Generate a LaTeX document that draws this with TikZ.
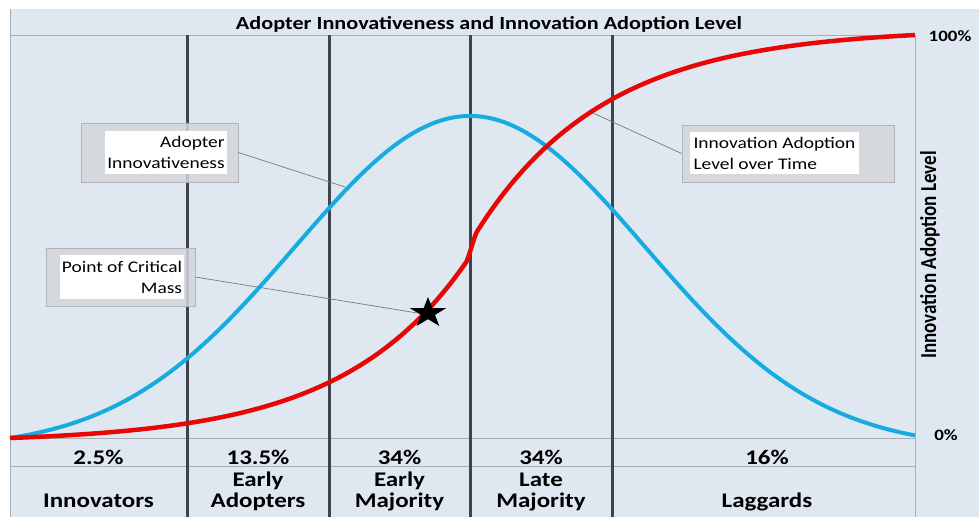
\documentclass[tikz,border=0pt]{standalone}
\usepackage{fontspec}
\usepackage{graphicx}
\setmainfont{Carlito}[FakeStretch=1.2]
\newfontfamily\axisfont{Carlito}
\usetikzlibrary{shapes.geometric}
\definecolor{bg}{RGB}{223,232,241}
\definecolor{gridline}{RGB}{168,174,180}
\definecolor{divider}{RGB}{62,68,76}
\definecolor{bluecurve}{RGB}{22,172,224}
\definecolor{redcurve}{RGB}{232,6,6}
\definecolor{boxgrey}{RGB}{212,214,218}
\definecolor{boxedge}{RGB}{176,180,184}
\definecolor{leader}{RGB}{118,122,126}
\newcommand{\bxfont}{\fontsize{16.2}{21}\selectfont}
\newcommand{\lblfont}{\bfseries\fontsize{20.8}{19.5}\selectfont}
\begin{document}
\begin{tikzpicture}[x=1pt,y=-1pt,
  thinline/.style={gridline, line width=1pt},
  divline/.style={divider, line width=3pt},
  outerbox/.style={draw=boxedge, fill=boxgrey, fill opacity=0.85, line width=0.8pt, inner sep=0pt},
  innerbox/.style={fill=white, inner xsep=1pt, inner ysep=0pt, font=\bxfont},
  leaderline/.style={leader, line width=0.7pt},
  lbl/.style={font=\lblfont, anchor=base, inner sep=0pt},
  axislbl/.style={font=\bfseries\fontsize{15.8}{18}\selectfont, inner sep=0pt},
  curveblue/.style={bluecurve, line width=4pt},
  curvered/.style={redcurve, line width=4.5pt, line join=round}]
\useasboundingbox (0,0) rectangle (979,517);
\fill[white] (0,0) rectangle (979,517);
\fill[bg] (10,9) rectangle (979,517);
% grid
\draw[thinline] (10.5,9) -- (10.5,517);
\draw[thinline] (10,35) -- (915,35);
\draw[thinline] (915,35) -- (915,517);
\draw[thinline] (10,438) -- (915,438);
\draw[thinline] (10,466) -- (915,466);
% dividers
\foreach \xx in {187,329,470,612} \draw[divline] (\xx,35) -- (\xx,517);
% title
\node[font=\bfseries\fontsize{18.5}{22}\selectfont, anchor=base, inner sep=0pt] (title) at (489,29) {Adopter Innovativeness and Innovation Adoption Level};
% blue curve
\draw[curveblue] plot[domain=10:915, samples=220] (\x, {438 - 322*(exp(-0.5*((\x-470)/175)^2) - 0.0316)/0.9684});
% red curve
\draw[curvered] plot[domain=10:466, samples=150] (\x, {438 - 4.706*(exp(0.008*(\x-10)) - 1)})
  .. controls (469,257.6) and (474,236.5) .. (477,231.6)
  -- plot[domain=477:915, samples=150] (\x, {35 + 203*(exp(-0.0078*(\x-473)) - 0.0318)/0.9682});
% callout boxes
\node[outerbox, minimum width=157pt, minimum height=59pt] (box1) at (159.5,152.5) {};
\node[innerbox, minimum width=122pt, minimum height=43pt, align=right] (box1t) at (166,152.5) {Adopter\\Innovativeness};
\node[outerbox, minimum width=149pt, minimum height=58pt] (box2) at (120.5,277) {};
\node[innerbox, minimum width=124pt, minimum height=44pt, align=right] (box2t) at (122,277) {Point of Critical\\Mass};
\node[outerbox, minimum width=212pt, minimum height=57pt] (box3) at (788,153.5) {};
\node[innerbox, minimum width=169pt, minimum height=42pt, align=left] (box3t) at (774.5,153) {Innovation Adoption\\Level over Time};
% leader lines
\coordinate (bluept) at (345,187);
\coordinate (redpt) at (593,113);
\node[star, star points=5, star point ratio=2.6, fill=black, minimum size=32pt, inner sep=0pt, transform shape, xscale=1.2] (crit) at (428,313) {};
\draw[leaderline] (box1.east) -- (bluept);
\draw[leaderline] (box2.east) -- (crit.west);
\draw[leaderline] (box3.west) -- (redpt);
% axis labels
\node[axislbl] (top) at (950,36) {100\%};
\node[axislbl] (bottom) at (946,435) {0\%};
\node[rotate=90, inner sep=0pt] (axislabel) at (930,255) {\scalebox{1}[1.2]{\axisfont\bfseries\fontsize{19}{22}\selectfont Innovation Adoption Level}};
% percentages
\node[lbl] (p1) at (98.5,464) {2.5\%};
\node[lbl] (p2) at (258,464) {13.5\%};
\node[lbl] (p3) at (399.5,464) {34\%};
\node[lbl] (p4) at (541,464) {34\%};
\node[lbl] (p5) at (767,464) {16\%};
% group names
\node[lbl] (g1) at (98.5,507) {Innovators};
\node[lbl] (g2) at (258,507) {\begin{tabular}[b]{@{}c@{}}Early\\Adopters\end{tabular}};
\node[lbl] (g3) at (399.5,507) {\begin{tabular}[b]{@{}c@{}}Early\\Majority\end{tabular}};
\node[lbl] (g4) at (541,507) {\begin{tabular}[b]{@{}c@{}}Late\\Majority\end{tabular}};
\node[lbl] (g5) at (767,507) {Laggards};
\end{tikzpicture}
\end{document}
